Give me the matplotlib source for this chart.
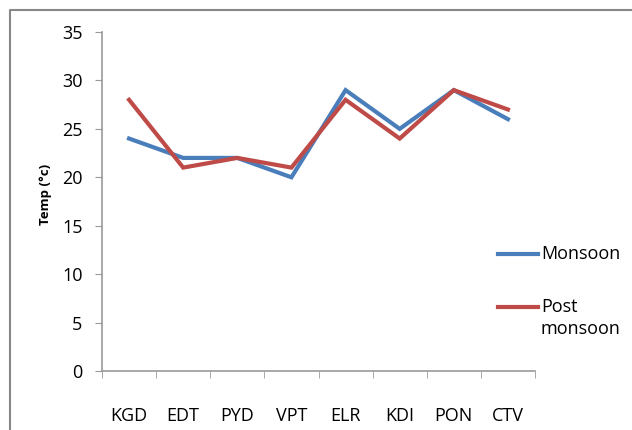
import matplotlib.pyplot as plt
from matplotlib.lines import Line2D

# station codes and seasonal temperatures
stations = ["KGD", "EDT", "PYD", "VPT", "ELR", "KDI", "PON", "CTV"]
monsoon = [24, 22, 22, 20, 29, 25, 29, 26]
post_monsoon = [28, 21, 22, 21, 28, 24, 29, 27]
series_names = ["Monsoon", "Post\nmonsoon"]
colors = ["#4A7EBB", "#BE4B48"]

plt.rcParams['font.family'] = ['Open Sans', 'DejaVu Sans']

W, H = 632, 430
fig = plt.figure(figsize=(W / 100, H / 100), dpi=100)
ax = fig.add_axes([102 / W, 1 - 371 / H, (535 - 102) / W, (371 - 32) / H])

x = list(range(len(stations)))
ax.plot(x, monsoon, color=colors[0], lw=3, solid_joinstyle='miter', zorder=3)
ax.plot(x, post_monsoon, color=colors[1], lw=3, solid_joinstyle='miter', zorder=4)

ax.set_xlim(-0.5, len(stations) - 0.5)
ax.set_ylim(0, 35)
ax.set_yticks(range(0, 36, 5))
ax.set_xticks(x)
ax.set_xticklabels(stations, fontsize=13)
ax.set_xticks([i - 0.5 for i in range(len(stations) + 1)], minor=True)
ax.tick_params(axis='x', which='major', length=0, pad=26)
ax.tick_params(axis='x', which='minor', length=5, color='#999999', direction='out')
ax.tick_params(axis='y', length=5, color='#999999', labelsize=13, pad=9)

for s in ['top', 'right']:
    ax.spines[s].set_visible(False)
for s in ['left', 'bottom']:
    ax.spines[s].set_color('#999999')
    ax.spines[s].set_linewidth(1.2)

fig.text(45 / W, 1 - 194 / H, "Temp (°c)", rotation=90, fontsize=9.5,
         fontweight='bold', ha='center', va='center')

# legend drawn by hand so the line sits on the first text row
for name, col, yy in zip(series_names, colors, [254, 307]):
    fig.add_artist(Line2D([498 / W, 538 / W], [1 - yy / H, 1 - yy / H],
                          color=col, lw=3, transform=fig.transFigure))
    fig.text(541 / W, 1 - (yy - 9) / H, name, fontsize=13, ha='left', va='top',
             linespacing=1.25)

# outer chart frame
fig.add_artist(Line2D([10 / W, 10 / W, 1.0], [0.0, 1 - 10 / H, 1 - 10 / H],
                      color='#888888', lw=1.5, transform=fig.transFigure))

fig.savefig("out.png", dpi=100)
